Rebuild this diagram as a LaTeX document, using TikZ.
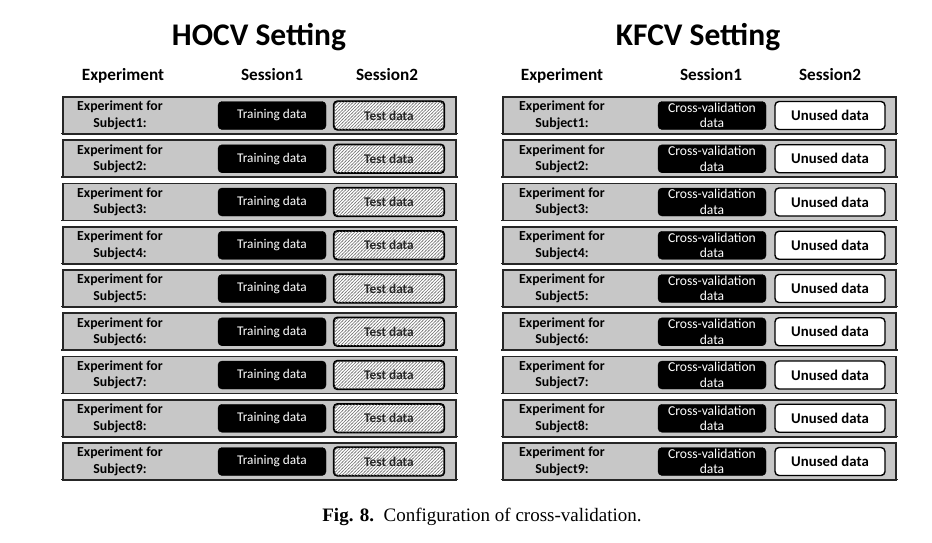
\documentclass[tikz,border=0pt]{standalone}
\usepackage{fontspec}
\setmainfont{Liberation Serif}
\newfontfamily\carl{Carlito}
\usetikzlibrary{patterns}
\pgfdeclarepatternformonly{sparsehatch}{\pgfqpoint{-1pt}{-1pt}}{\pgfqpoint{4pt}{4pt}}{\pgfqpoint{3.2pt}{3.2pt}}{%
  \pgfsetlinewidth{0.55pt}
  \pgfpathmoveto{\pgfqpoint{-0.5pt}{-0.5pt}}
  \pgfpathlineto{\pgfqpoint{3.7pt}{3.7pt}}
  \pgfusepath{stroke}}
\begin{document}
\begin{tikzpicture}[x=1pt,y=-1pt,
  rowbox/.style={draw=black!85,line width=1.6pt,fill=black!22},
  trainbox/.style={draw=black,fill=black,rounded corners=4pt,text=white,font=\carl\fontsize{13.3}{13}\selectfont,minimum width=108pt,minimum height=28pt,inner sep=0pt,align=center},
  cvbox/.style={trainbox,font=\carl\fontsize{13.6}{15.5}\selectfont},
  testbox/.style={draw=black,line width=1.2pt,rounded corners=4pt,fill=white,minimum width=110pt,minimum height=28pt,inner sep=0pt},
  testhatch/.style={pattern=sparsehatch,pattern color=black!55},
  unusedbox/.style={draw=black,line width=1.4pt,fill=white,rounded corners=4pt,font=\carl\bfseries\fontsize{14.8}{15}\selectfont,minimum width=110pt,minimum height=28pt,inner sep=0pt},
  explabel/.style={font=\carl\bfseries\fontsize{13.8}{16.5}\selectfont,align=center,inner sep=0pt},
  head/.style={font=\carl\bfseries\fontsize{17.2}{18}\selectfont,inner sep=0pt},
  ttl/.style={font=\carl\bfseries\fontsize{31.5}{33}\selectfont,inner sep=0pt}]
\useasboundingbox (0,0) rectangle (932,542);
\fill[white] (0,0) rectangle (932,542);
\node[ttl] (t1) at (259,37) {HOCV Setting};
\node[ttl] (t2) at (698,37) {KFCV Setting};
\node[head] (h1) at (123,76) {Experiment};
\node[head] (h2) at (272,75) {Session1};
\node[head] (h3) at (387,75) {Session2};
\node[head] (h4) at (562,76) {Experiment};
\node[head] (h5) at (711,75) {Session1};
\node[head] (h6) at (830,75) {Session2};
\foreach \i in {1,...,9}{
  \pgfmathsetmacro{\yt}{97+(\i-1)*43.25}
  \pgfmathsetmacro{\yc}{\yt+18.5}
  \node[rowbox,minimum width=393pt,minimum height=37pt,inner sep=0pt] (L\i) at (259.5,\yc) {};
  \draw[black!85,line width=1.2pt] ([xshift=-0.8pt,yshift=1.1pt]L\i.south west) -- ([xshift=0.8pt,yshift=1.1pt]L\i.south east);
  \node[explabel] (LE\i) at (120,\yc) {Experiment for\\Subject\i:};
  \node[trainbox] (LT\i) at (272,\yc) {Training data};
  \node[testbox] (LS\i) at (389,\yc) {};
  \fill[testhatch,rounded corners=4pt] (LS\i.south west) rectangle (LS\i.north east);
  \draw[line width=1.2pt,rounded corners=4pt] (LS\i.south west) rectangle (LS\i.north east);
  \node[font=\carl\bfseries\fontsize{13.3}{14}\selectfont,inner sep=1pt,text=black!85] (LSt\i) at (LS\i) {Test data};
  \node[rowbox,minimum width=393pt,minimum height=37pt,inner sep=0pt] (R\i) at (699.5,\yc) {};
  \draw[black!85,line width=1.2pt] ([xshift=-0.8pt,yshift=1.1pt]R\i.south west) -- ([xshift=0.8pt,yshift=1.1pt]R\i.south east);
  \node[explabel] (RE\i) at (562,\yc) {Experiment for\\Subject\i:};
  \node[cvbox] (RT\i) at (712,\yc) {Cross-validation\\data};
  \node[unusedbox] (RS\i) at (830,\yc) {Unused data};
}
\node[font=\fontsize{19}{21}\selectfont,inner sep=0pt] (cap) at (482,517) {\textbf{Fig. 8.}\ \ Configuration of cross-validation.};
\end{tikzpicture}
\end{document}
